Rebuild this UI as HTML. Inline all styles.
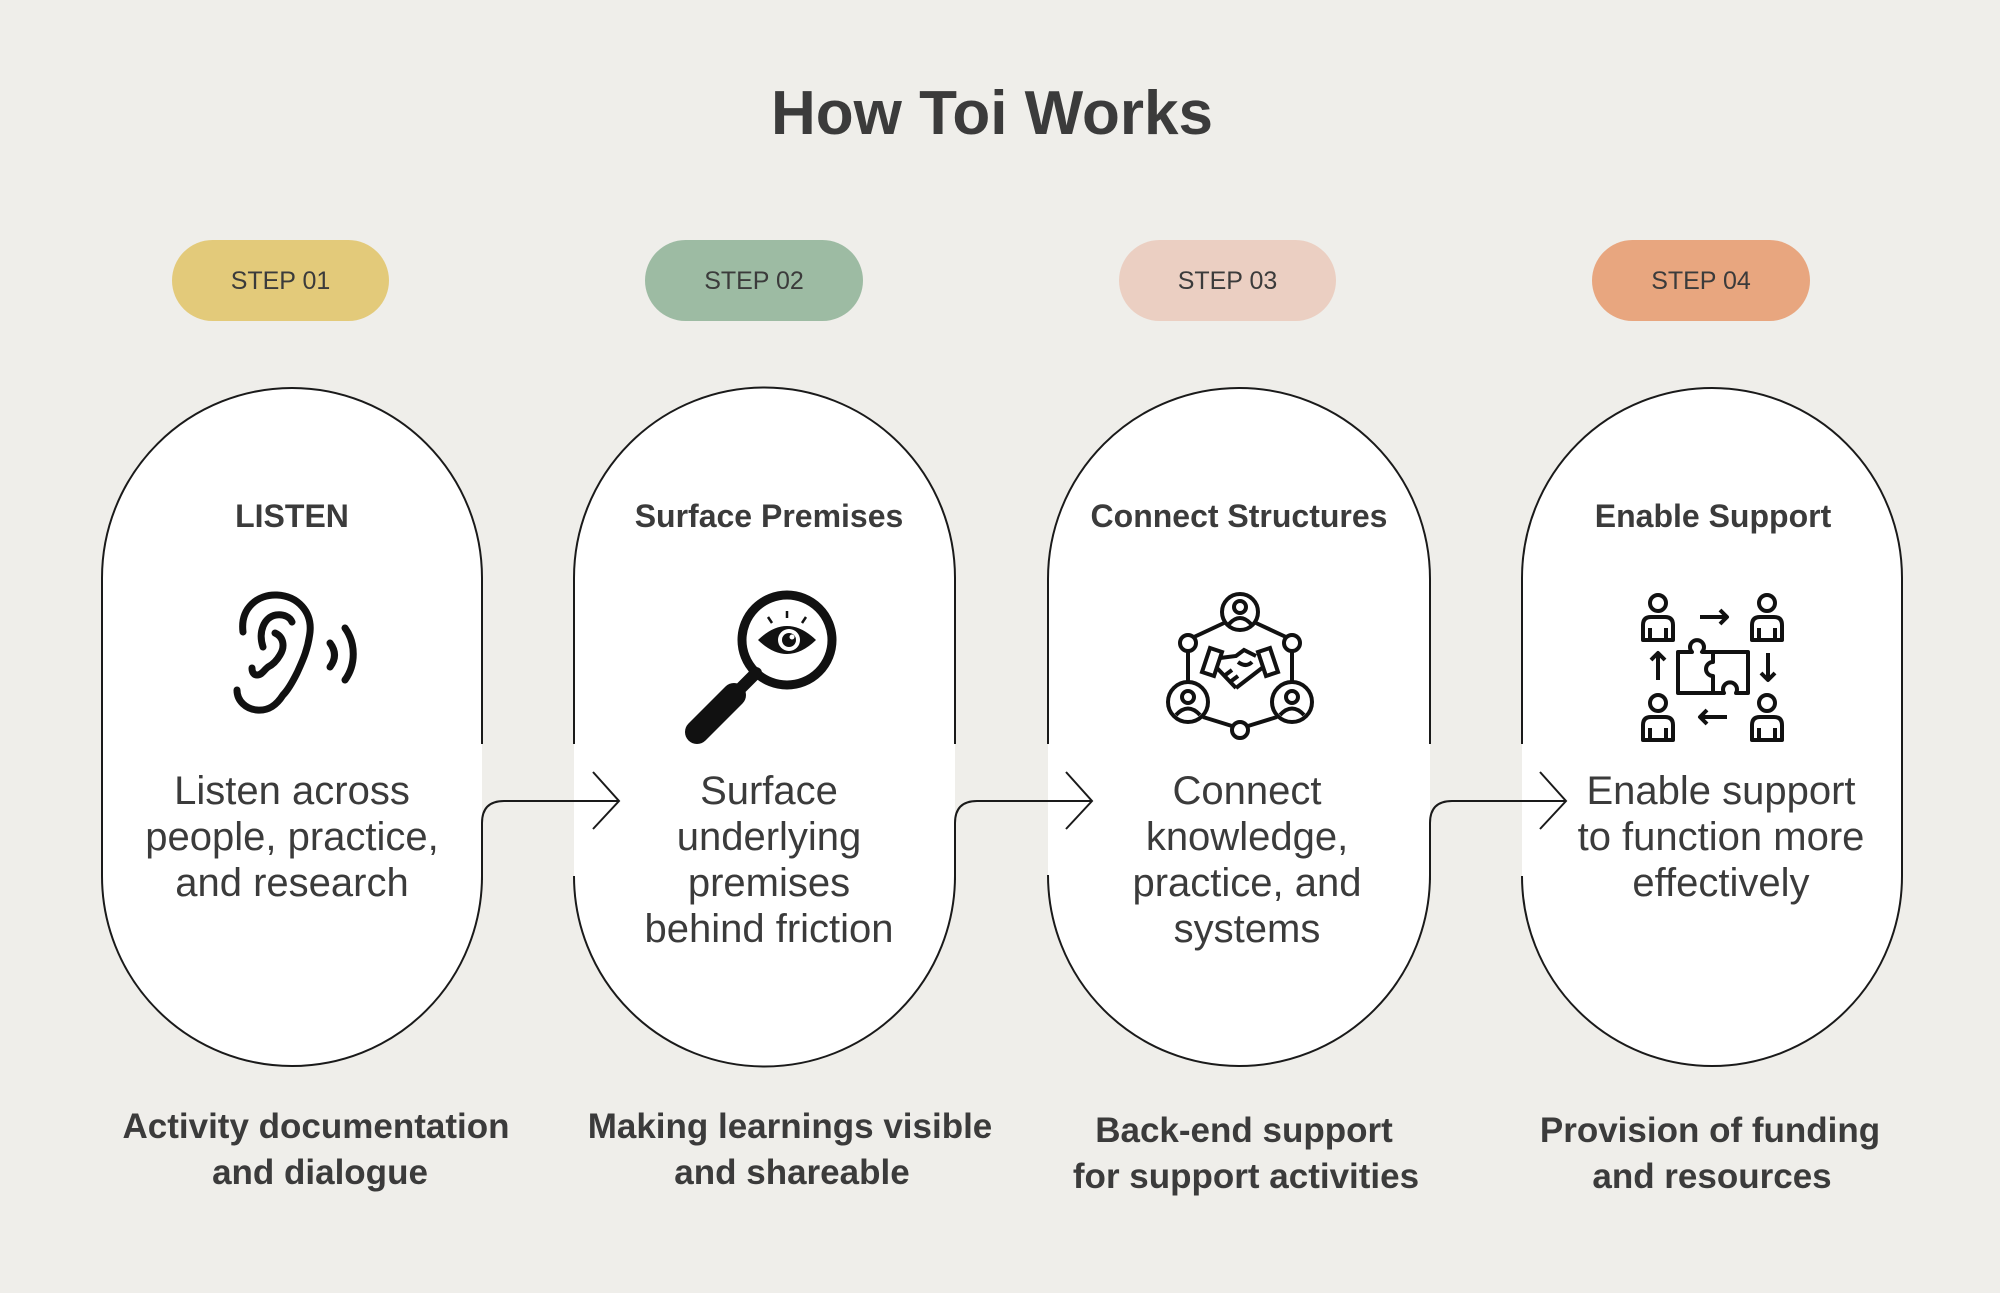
<!DOCTYPE html>
<html><head><meta charset="utf-8"><style>
html,body{margin:0;padding:0;background:#efeeea;}
body{width:2000px;height:1293px;overflow:hidden;font-family:"Liberation Sans",sans-serif;}
</style></head><body>
<svg width="2000" height="1293" viewBox="0 0 2000 1293" xmlns="http://www.w3.org/2000/svg" style="position:absolute;left:0;top:0">
<rect width="2000" height="1293" fill="#efeeea"/>
<text x="992" y="134" text-anchor="middle" font-family="Liberation Sans" font-weight="bold" font-size="62" fill="#3b3b3b">How Toi Works</text>

<g font-family="Liberation Sans" font-size="25" fill="#3b3b3b" text-anchor="middle">
<rect x="172" y="240" width="217" height="81" rx="40.5" fill="#e3ca7a"/>
<text x="280.5" y="289">STEP 01</text>
<rect x="645" y="240" width="218" height="81" rx="40.5" fill="#9dbba3"/>
<text x="754" y="289">STEP 02</text>
<rect x="1119" y="240" width="217" height="81" rx="40.5" fill="#ebcfc2"/>
<text x="1227.5" y="289">STEP 03</text>
<rect x="1592" y="240" width="218" height="81" rx="40.5" fill="#e8a67f"/>
<text x="1701" y="289">STEP 04</text>
</g>

<g fill="#fff">
<rect x="102" y="388" width="380" height="678" rx="190"/>
<rect x="574" y="388" width="381" height="678" rx="190"/>
<rect x="1048" y="388" width="382" height="678" rx="191"/>
<rect x="1522" y="388" width="380" height="678" rx="190"/>
</g>
<g fill="none" stroke="#1a1a1a" stroke-width="2">
<path d="M482,744 L482,578 A190,190 0 0 0 102,578 L102,876 A190,190 0 0 0 482,876"/>
<path d="M574,744 L574,578 A190.5,190.5 0 0 1 955,578 L955,744"/>
<path d="M574,876 A190.5,190.5 0 0 0 955,876"/>
<path d="M1048,744 L1048,579 A191,191 0 0 1 1430,579 L1430,744"/>
<path d="M1048,875 A191,191 0 0 0 1430,875"/>
<path d="M1522,744 L1522,578 A190,190 0 0 1 1902,578 L1902,876 A190,190 0 0 1 1522,876"/>
</g>

<g fill="none" stroke="#1a1a1a" stroke-width="2">
<path d="M482,880 L482,823 Q482,801 504,801 L619,801"/>
<path d="M593,772 L619,801 L593,829"/>
<path d="M955,880 L955,823 Q955,801 977,801 L1092,801"/>
<path d="M1066,772 L1092,801 L1066,829"/>
<path d="M1430,880 L1430,823 Q1430,801 1452,801 L1566,801"/>
<path d="M1540,772 L1566,801 L1540,829"/>
</g>

<g font-family="Liberation Sans" font-weight="bold" font-size="32" fill="#3b3b3b" text-anchor="middle">
<text x="292" y="527">LISTEN</text>
<text x="769" y="527">Surface Premises</text>
<text x="1239" y="527">Connect Structures</text>
<text x="1713" y="527">Enable Support</text>
</g>

<g font-family="Liberation Sans" font-size="40" fill="#3b3b3b" text-anchor="middle">
<text x="292" y="804">Listen across</text>
<text x="292" y="850">people, practice,</text>
<text x="292" y="896">and research</text>
<text x="769" y="804">Surface</text>
<text x="769" y="850">underlying</text>
<text x="769" y="896">premises</text>
<text x="769" y="942">behind friction</text>
<text x="1247" y="804">Connect</text>
<text x="1247" y="850">knowledge,</text>
<text x="1247" y="896">practice, and</text>
<text x="1247" y="942">systems</text>
<text x="1721" y="804">Enable support</text>
<text x="1721" y="850">to function more</text>
<text x="1721" y="896">effectively</text>
</g>

<g font-family="Liberation Sans" font-weight="bold" font-size="35" fill="#3b3b3b" text-anchor="middle">
<text x="316" y="1138">Activity documentation</text>
<text x="320" y="1184">and dialogue</text>
<text x="790" y="1138">Making learnings visible</text>
<text x="792" y="1184">and shareable</text>
<text x="1244" y="1142">Back-end support</text>
<text x="1246" y="1188">for support activities</text>
<text x="1710" y="1142">Provision of funding</text>
<text x="1712" y="1188">and resources</text>
</g>

<g fill="none" stroke="#111" stroke-width="7" stroke-linecap="round" stroke-linejoin="round">
<path d="M243,632 C240,608 258,594 277,595 C298,596 312,612 310,632 C308,650 302,662 297,673 C292,683 288,690 283,695 C276,706 268,711 257,710 C246,709 237,701 237,690"/>
<path d="M263,647 C258,632 264,617 276,615 C284,614 290,617 292,622"/>
<path d="M275,633 C284,637 285,647 280,655 C276,662 272,665 268,667 C264,670 262,675 257,675 C253,675 252,671 252,668"/>
<path d="M330,643 C336,651 336,659 330,667"/>
<path d="M345,628 C356,643 356,665 345,680"/>
</g>

<g>
<circle cx="787" cy="640" r="45" fill="none" stroke="#111" stroke-width="9"/>
<path d="M756,673 L738,691" stroke="#111" stroke-width="12" stroke-linecap="round"/>
<path d="M734,695 L697,732" stroke="#111" stroke-width="24" stroke-linecap="round"/>
<path d="M758,640 Q787,612 816,640 Q787,668 758,640 Z" fill="#111"/>
<circle cx="789" cy="640" r="11" fill="#fff"/>
<circle cx="789" cy="640" r="7" fill="#111"/>
<circle cx="792" cy="637" r="2.5" fill="#fff"/>
<path d="M787,611 L787,618 M768,617 L772,623 M806,617 L802,623" stroke="#111" stroke-width="2.5"/>
</g>

<g fill="none" stroke="#111" stroke-width="4">
<path d="M1224,623 L1194,637 M1256,623 L1286,637 M1188,651 L1188,682 M1292,651 L1292,682 M1203,717 L1232,726 M1277,717 L1248,726"/>
<circle cx="1240" cy="612" r="18"/>
<circle cx="1240" cy="607" r="6"/><path d="M1229,624 Q1240,612 1251,624"/>
<circle cx="1188" cy="643" r="8"/>
<circle cx="1292" cy="643" r="8"/>
<circle cx="1188" cy="702" r="20"/>
<circle cx="1188" cy="697" r="6"/><path d="M1176,715 Q1188,702 1200,715"/>
<circle cx="1292" cy="702" r="20"/>
<circle cx="1292" cy="697" r="6"/><path d="M1280,715 Q1292,702 1304,715"/>
<circle cx="1240" cy="730" r="8"/>
<path d="M1210,648 L1222,652 L1214,676 L1202,672 Z"/>
<path d="M1270,648 L1258,652 L1266,676 L1278,672 Z"/>
<path d="M1220,658 L1236,656 L1244,650 L1256,656 M1217,668 L1236,688 M1236,688 L1262,668 M1238,662 Q1246,668 1252,662 M1224,676 L1232,670 M1230,682 L1238,676"/>
</g>

<g fill="none" stroke="#111" stroke-width="4" stroke-linejoin="round">
<circle cx="1658" cy="603" r="8"/><path d="M1643,640 L1643,625 Q1643,617 1651,617 L1665,617 Q1673,617 1673,625 L1673,640 Z M1650,628 L1650,640 M1666,628 L1666,640"/>
<circle cx="1767" cy="603" r="8"/><path d="M1752,640 L1752,625 Q1752,617 1760,617 L1774,617 Q1782,617 1782,625 L1782,640 Z M1759,628 L1759,640 M1775,628 L1775,640"/>
<circle cx="1658" cy="703" r="8"/><path d="M1643,740 L1643,725 Q1643,717 1651,717 L1665,717 Q1673,717 1673,725 L1673,740 Z M1650,728 L1650,740 M1666,728 L1666,740"/>
<circle cx="1767" cy="703" r="8"/><path d="M1752,740 L1752,725 Q1752,717 1760,717 L1774,717 Q1782,717 1782,725 L1782,740 Z M1759,728 L1759,740 M1775,728 L1775,740"/>
<path d="M1700,617 L1727,617 M1720,610 L1727,617 L1720,624"/>
<path d="M1768,653 L1768,680 M1761,673 L1768,680 L1775,673"/>
<path d="M1727,717 L1700,717 M1707,710 L1700,717 L1707,724"/>
<path d="M1658,680 L1658,653 M1651,660 L1658,653 L1665,660"/>
<path d="M1678,652 L1692,652 A7,7 0 1 1 1702,652 L1713,652 L1713,662 A7,7 0 1 0 1713,676 L1713,693 L1678,693 Z"/>
<path d="M1713,652 L1748,652 L1748,693 L1736,693 A7,7 0 1 0 1724,693 L1713,693"/>
</g>
</svg>
</body></html>
